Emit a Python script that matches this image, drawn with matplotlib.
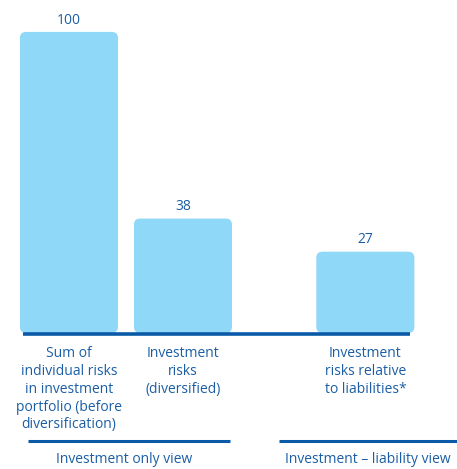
import matplotlib
matplotlib.use("Agg")
import matplotlib.pyplot as plt
from matplotlib.patches import FancyBboxPatch

categories = ["Sum of\nindividual risks\nin investment\nportfolio (before\ndiversification)",
              "Investment\nrisks\n(diversified)",
              "Investment\nrisks relative\nto liabilities*"]
values = [100, 38, 27]
positions = [0, 1, 2.6]
groups = ["Investment only view", "Investment \u2013 liability view"]

BAR = "#8FD8F7"
DARK = "#0A5AA8"
TXT = "#1B5EA6"
plt.rcParams['font.family'] = ['Open Sans', 'DejaVu Sans']

fig = plt.figure(figsize=(4.57, 4.69), dpi=100)
ax = fig.add_axes([0, 0, 1, 1])
ax.set_xlim(-0.605, 3.404)
ax.set_ylim(-45.2, 110.6)
ax.axis('off')

width = 0.86
bars = ax.bar(positions, values, width=width, color=BAR)
r = 0.055
ma = 2.0 / r
for b in bars:
    x, y, w, h = b.get_x(), b.get_y(), b.get_width(), b.get_height()
    b.set_visible(False)
    p = FancyBboxPatch((x, y), w, h, boxstyle=f"round,pad=0,rounding_size={r}",
                       mutation_aspect=ma, fc=BAR, ec='none')
    ax.add_patch(p)

for xp, v in zip(positions, values):
    ax.text(xp, v + 3.9, str(v), ha='center', va='center', color=TXT, fontsize=10)

# baseline
ax.plot([-0.40, 2.99], [-0.3, -0.3], color=DARK, lw=2.6, solid_capstyle='butt')

for xp, c in zip(positions, categories):
    ax.text(xp, -4.5, c, ha='center', va='top', color=TXT, fontsize=10, linespacing=1.25)

# group lines
gy = -35.8
ax.plot([-0.36, 1.41], [gy, gy], color=DARK, lw=2.2, solid_capstyle='butt')
ax.plot([1.84, 3.404], [gy, gy], color=DARK, lw=2.2, solid_capstyle='butt')
ax.text(0.48, -41.9, groups[0], ha='center', va='center', color=TXT, fontsize=10)
ax.text(2.62, -41.9, groups[1], ha='center', va='center', color=TXT, fontsize=10)

fig.savefig("out.png", dpi=100)
